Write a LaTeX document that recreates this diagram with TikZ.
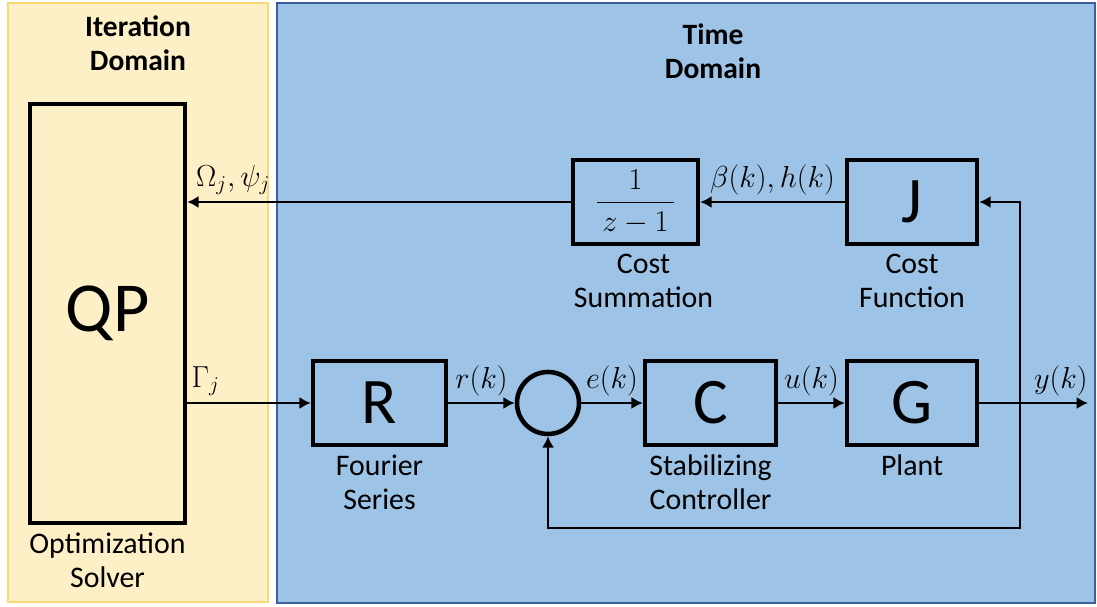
\documentclass[tikz,border=0pt]{standalone}
\usepackage{amsmath}
\usepackage{fontspec}
\setmainfont{Carlito}
\usepackage{tikz}
\usetikzlibrary{arrows.meta, positioning, calc}

\definecolor{iterfill}{HTML}{FDEFC6}
\definecolor{iterline}{HTML}{F8D978}
\definecolor{timefill}{HTML}{9DC3E6}
\definecolor{timeline}{HTML}{3A5F9A}

\begin{document}
\begin{tikzpicture}[x=0.02cm, y=-0.02cm, node distance=1pt,
    block/.style={rectangle, draw, line width=2.6pt, minimum width=2.6cm, minimum height=1.68cm, font=\fontsize{37}{40}\selectfont},
    caption/.style={align=center, font=\fontsize{17}{19.3}\selectfont},
    title/.style={align=center, font=\fontsize{16.8}{19.3}\selectfont\bfseries},
    lbl/.style={font=\fontsize{17.28}{20}\selectfont},
    arr/.style={-{Latex[length=6.5pt, width=7pt]}, line width=1.4pt}]

    \useasboundingbox (0,0) rectangle (1097,607);

    % domains
    \draw [fill=iterfill, draw=iterline, line width=1.2pt] (8,3) rectangle (268,602);
    \draw [fill=timefill, draw=timeline, line width=1pt] (277,3) rectangle (1095,603);
    \node [title] (itertitle) at (138,43) {Iteration\\Domain};
    \node [title] (timetitle) at (713,51) {Time\\Domain};

    % blocks
    \node [block, minimum width=3.1cm, minimum height=8.38cm, font=\fontsize{40}{44}\selectfont] (qp) at (107.5,313.5) {QP};
    \node [block] (jblk) at (912,202) {J};
    \node [block, minimum width=2.5cm, font=\fontsize{17.28}{20}\selectfont] (csum) at (635.5,202) {$\displaystyle\frac{\;1\;}{\,z-1\,}$};
    \node [block, minimum width=2.66cm] (rblk) at (379.5,403) {R};
    \node [circle, draw, line width=2.6pt, minimum size=1.24cm] (sum) at (548,403) {};
    \node [block, minimum width=2.62cm] (cblk) at (710.5,403) {C};
    \node [block] (gblk) at (912,403) {G};

    \node [caption, below=of qp] (qpcap) {Optimization\\Solver};
    \node [caption, below=of jblk] (jcap) {Cost\\Function};
    \node [caption, below=of csum, xshift=0.16cm] (csumcap) {Cost\\Summation};
    \node [caption, below=of rblk] (rcap) {Fourier\\Series};
    \node [caption, below=of cblk] (ccap) {Stabilizing\\Controller};
    \node [caption, below=of gblk] (gcap) {Plant};

    \coordinate (tap) at (1020,403);
    \coordinate (yend) at (1088,403);
    \coordinate (fbk) at (1020,528);

    % signals
    \draw [arr] (qp.east |- rblk) -- node[lbl, above, pos=0.15]{$\Gamma_j$} (rblk);
    \draw [arr] (rblk) -- node[lbl, above]{$r(k)$} (sum);
    \draw [arr] (sum) -- node[lbl, above]{$e(k)$} (cblk);
    \draw [arr] (cblk) -- node[lbl, above]{$u(k)$} (gblk);
    \draw [arr] (gblk) -- node[lbl, above, pos=0.75]{$y(k)$} (yend);
    \draw [arr] (tap) |- (jblk.east);
    \draw [arr] (tap) -- (fbk) -| (sum.south);
    \draw [arr] (jblk) -- node[lbl, above]{$\beta(k), h(k)$} (csum);
    \draw [arr] (csum.west) -- node[lbl, above, pos=0.88]{$\Omega_j, \psi_j$} (qp.east |- csum.west);
\end{tikzpicture}
\end{document}
